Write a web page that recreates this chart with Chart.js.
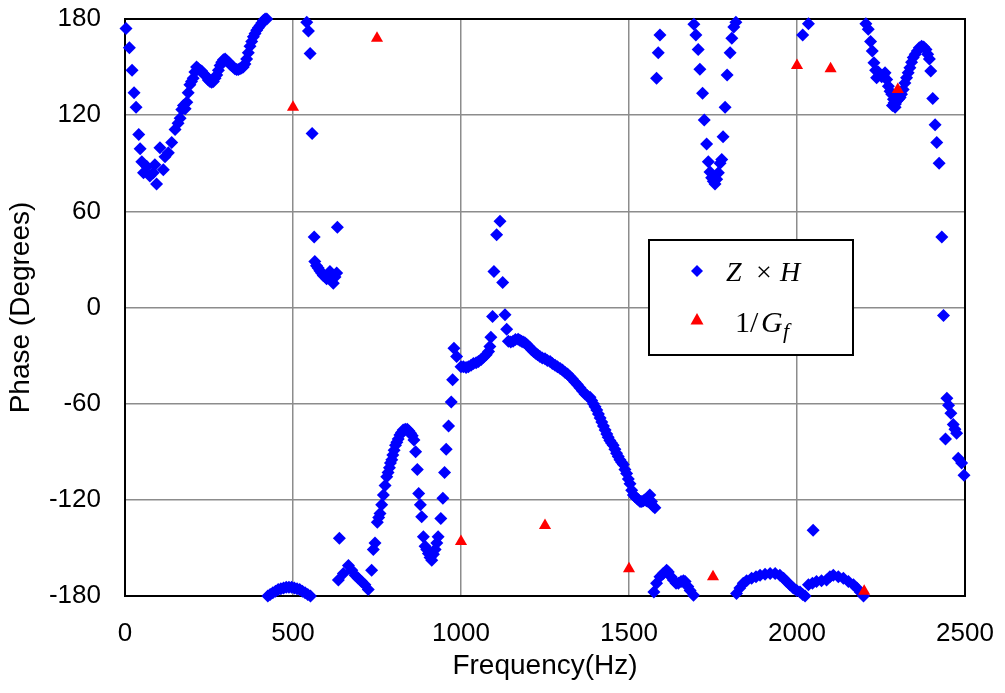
<!DOCTYPE html>
<html>
<head>
<meta charset="utf-8">
<script src="https://cdn.jsdelivr.net/npm/chart.js@4.4.1/dist/chart.umd.min.js"></script>
<style>
    body{margin:0;background:#fff;}
    #g_fase{display:block;}
</style>
</head>
<body>
<canvas id="g_fase" width="1005" height="693"></canvas>
<script>
let ticks_x = [0, 500, 1000, 1500, 2000, 2500];
let ticks_y = [-180, -120, -60, 0, 60, 120, 180];

// Z x H, frecuencia (Hz) y fase (grados)
let frec_zh = [
    3, 13, 21, 27, 33, 41, 45, 50, 55, 65, 74, 84, 89, 94, 104, 114, 119, 129, 139, 149,
    158, 164, 169, 174, 179, 184, 188, 193, 198, 203, 208, 213, 218, 223, 228, 233, 238, 243, 248, 253,
    258, 263, 268, 273, 278, 283, 288, 293, 298, 303, 308, 312, 317, 322, 327, 332, 337, 342, 347, 352,
    357, 362, 367, 372, 377, 382, 387, 392, 397, 402, 407, 412, 417, 422,
    425, 432, 440, 448, 456, 464, 472, 480, 488, 496, 504, 512, 520, 528, 536, 544, 552,
    541, 546, 551, 557, 563, 565, 570, 575, 580, 585, 590, 595, 600, 605, 610, 615, 620, 625, 630, 632,
    635, 638, 650, 665, 675, 685, 694, 704, 714, 724, 734, 739, 744, 751, 755, 759, 764, 769, 774, 779,
    783, 787, 790, 794, 797, 801, 805, 809, 813, 818, 823, 828, 834, 840, 845, 850, 855, 860, 865, 870,
    874, 879, 883, 888, 893, 898, 903, 908, 913, 918, 923, 928, 932, 940, 946, 951, 956, 963, 971, 975,
    979, 987, 1000, 1007, 1015, 1022, 1030, 1037, 1045, 1052, 1060, 1067, 1075, 1082, 1086, 1089, 1094, 1098, 1106, 1116,
    1124, 1131, 1136, 1141, 1148, 1155, 1162, 1170, 1175, 1180, 1185, 1190, 1195, 1200, 1205, 1210, 1216, 1222, 1228, 1235,
    1242, 1250, 1257, 1265, 1272, 1280, 1287, 1295, 1302, 1310, 1317, 1324, 1331, 1339, 1346, 1354, 1361, 1369, 1376, 1384,
    1389, 1394, 1399, 1404, 1409, 1414, 1419, 1424, 1429, 1434, 1438, 1443, 1448, 1453, 1458, 1463, 1468, 1473, 1478, 1483,
    1488, 1493, 1498, 1503, 1508, 1513, 1518, 1523, 1528, 1533, 1538, 1543, 1548, 1552, 1557, 1562, 1567, 1572, 1577,
    1574, 1582, 1592, 1602, 1612, 1617, 1625, 1632, 1640, 1647, 1655, 1662, 1667, 1675, 1682, 1692,
    1582, 1587, 1592, 1693, 1699, 1706, 1711, 1719, 1724, 1731, 1736, 1741, 1746, 1751, 1756, 1761, 1766, 1771, 1776, 1780,
    1786, 1792, 1801, 1806, 1812, 1818,
    1820, 1830, 1840, 1850, 1865, 1878, 1890, 1905, 1920, 1935, 1949, 1960, 1969, 1979, 1989, 1999, 2009, 2017, 2024, 2034,
    2046, 2048, 2058, 2073, 2088, 2098, 2108, 2123, 2138, 2153, 2168, 2178, 2188, 2198,
    2017, 2034,
    2205, 2212, 2219, 2224, 2229, 2234, 2237, 2242, 2247, 2252, 2257, 2262, 2267, 2272, 2277, 2282, 2284, 2287, 2289, 2292,
    2293, 2297, 2302, 2307, 2311, 2316, 2321, 2326, 2331, 2336, 2341, 2346, 2352, 2358, 2364, 2371, 2377, 2384, 2389, 2394,
    2398, 2404, 2411, 2416, 2423, 2431, 2436, 2442, 2446, 2451, 2458, 2465, 2470, 2475, 2480, 2490, 2497
];
let fase_zh = [
    174, 162, 148, 134, 125, 108, 99, 91, 84, 88, 82, 84, 89, 77, 99.6, 86, 94, 96.5, 103, 111,
    115, 118, 123.6, 126, 124, 128, 134, 139, 141, 143, 147, 150, 149, 148, 147.5, 146, 145, 144, 142, 141,
    140.5, 141, 143, 145, 148, 151, 153, 154.5, 155, 154, 153, 152, 151, 150, 149, 148.5, 148.5, 149, 149.5, 150,
    152, 155, 159, 163, 166, 169, 171, 173, 174.6, 176, 177.5, 179, 180, 180,
    -180, -179, -178, -177, -176, -175.5, -175, -174.5, -174.5, -174.5, -175, -175.5, -176, -177, -178, -179, -180,
    178, 172.5, 158.5, 108.5, 44, 28.7, 26, 24.6, 23, 21.5, 20, 19.4, 18, 20, 22.5, 18, 15.2, 19, 21.5, 50,
    -170, -144, -166, -161, -164, -167, -169, -171, -173, -176, -164, -151, -147, -134, -131, -128.5, -123, -117, -111, -105.6,
    -103, -100, -97, -95, -92, -89, -86, -84, -82, -79.5, -78, -76.5, -76, -76, -77, -78.5, -80, -82.7, -90, -101,
    -116, -123, -130.6, -143, -149, -151, -153.5, -156, -157.7, -154, -151, -147, -143, -131.6, -119, -103, -88.5, -74, -59, -45,
    -25.4, -30.6, -37, -37, -37.5, -37, -36, -35, -34.5, -33.7, -32.5, -31, -29.5, -27.5, -24.4, -18.5, -5.6, 22.5, 45.4, 53.8,
    15.6, -4.6, -13.5, -21, -21.5, -21, -20, -19.8, -20.5, -21, -21.5, -22, -23, -24, -25, -26.4, -27.5, -28.5, -29.5, -30.6,
    -31.5, -32, -33, -33.7, -35, -36, -37, -38, -39, -40.5, -41.5, -43, -44.5, -46.5, -48, -50, -52, -54, -55, -56,
    -58, -60, -62, -64, -66.5, -69, -71.5, -74, -76.5, -79, -81, -83, -84.5, -86, -88.5, -91, -93, -95, -96.5, -98,
    -101, -103.5, -107, -110, -114, -117, -118, -119, -120, -121, -121, -120.5, -120, -120.5, -121, -117, -121, -124, -125,
    -177.5, -172, -168, -166, -164, -165, -168, -170, -172, -172, -171, -170.5, -171, -174, -176.5, -179.6,
    143, 159, 170, 176.7, 170, 161, 148.6, 133.6, 117, 102, 91, 84.6, 81, 78.8, 77, 80, 84, 90, 92.3, 106.5,
    125, 145, 159, 168, 175, 178,
    -178.5, -175, -172, -170.5, -169, -168, -167, -166.5, -166, -166, -167, -169, -171, -173, -175, -176.5, -177.5, -179, -180, -173,
    -172, -139, -171, -170.5, -170, -168, -167, -168, -169, -171, -173, -175, -177.5, -180,
    170, 177,
    177, 173.6, 166, 160, 152.7, 148, 143.4, 147, 145.4, 144, 145, 146.5, 142.3, 138, 135, 133, 126, 130, 127.7, 125,
    127, 128.8, 130, 131, 133, 136, 140, 143.4, 146.5, 149.6, 153, 156, 158, 160, 162, 163, 162.5, 161, 158, 155,
    147.5, 130.4, 114, 103, 90, 44, -5, -82, -56.6, -61, -66, -73, -76, -78.5, -94, -97, -104.6
];

// 1/Gf
let frec_gf = [500, 750, 1000, 1250, 1500, 1750, 2000, 2100, 2200, 2300];
let fase_gf = [125, 168, -146, -136, -163, -168, 151, 149, -177, 136];

let azul = "#0000ff";
let rojo = "#ff0000";

function puntos(xs, ys){
    let r = [];
    for(let i = 0; i < xs.length; i++){
        r.push({x: xs[i], y: ys[i]});
    }
    return r;
}

// marco superior/derecho del area
let marco = {
    id: "marco",
    beforeDatasetsDraw(chart){
        let a = chart.chartArea;
        let ctx = chart.ctx;
        ctx.save();
        ctx.strokeStyle = "#000";
        ctx.lineWidth = 2;
        ctx.strokeRect(a.left, a.top, a.right - a.left, a.bottom - a.top);
        ctx.restore();
    }
};

// leyenda dentro del grafico
let leyenda = {
    id: "leyenda",
    afterDraw(chart){
        let ctx = chart.ctx;
        ctx.save();
        ctx.fillStyle = "#fff";
        ctx.fillRect(649, 240, 204, 115);
        ctx.strokeStyle = "#000";
        ctx.lineWidth = 2;
        ctx.strokeRect(649, 240, 204, 115);

        ctx.fillStyle = azul;
        ctx.beginPath();
        ctx.moveTo(697, 265); ctx.lineTo(703, 271); ctx.lineTo(697, 277); ctx.lineTo(691, 271);
        ctx.closePath();
        ctx.fill();

        ctx.fillStyle = rojo;
        ctx.beginPath();
        ctx.moveTo(697, 313); ctx.lineTo(703.5, 324.5); ctx.lineTo(690.5, 324.5);
        ctx.closePath();
        ctx.fill();

        ctx.fillStyle = "#000";
        ctx.textBaseline = "alphabetic";
        ctx.font = "italic 28px 'Liberation Serif'";
        ctx.fillText("Z", 726, 281);
        ctx.font = "28px 'Liberation Serif'";
        ctx.fillText("\u00d7", 756, 281);
        ctx.font = "italic 28px 'Liberation Serif'";
        ctx.fillText("H", 780, 281);

        ctx.font = "30px 'Liberation Serif'";
        ctx.fillText("1/", 735, 332);
        ctx.font = "italic 30px 'Liberation Serif'";
        ctx.fillText("G", 761, 332);
        ctx.font = "italic 22px 'Liberation Serif'";
        ctx.fillText("f", 783, 338);
        ctx.restore();
    }
};

let ctx = document.getElementById("g_fase").getContext("2d");
let g_fase = new Chart(ctx, {
    type: "scatter",
    data: {
        datasets: [
            {
                label: "1/Gf",
                data: puntos(frec_gf, fase_gf),
                pointStyle: "triangle",
                pointRadius: 7,
                backgroundColor: rojo,
                borderColor: rojo,
                borderWidth: 0,
                clip: false,
                order: 0
            },
            {
                label: "Z x H",
                data: puntos(frec_zh, fase_zh),
                pointStyle: "rectRot",
                pointRadius: 6.5,
                backgroundColor: azul,
                borderColor: azul,
                borderWidth: 0,
                clip: false,
                order: 1
            }
        ]
    },
    options: {
        responsive: false,
        animation: false,
        devicePixelRatio: 1,
        layout: {
            padding: {top: 19, right: 40, left: 0, bottom: 0}
        },
        plugins: {
            legend: {display: false},
            tooltip: {enabled: false}
        },
        scales: {
            x: {
                type: "linear",
                min: 0,
                max: 2500,
                afterFit: function(s){
                    s.height = 97;
                    s.paddingLeft = 0;
                    s.paddingRight = 0;
                },
                afterBuildTicks: function(s){ s.ticks = ticks_x.map(v => ({value: v})); },
                grid: {color: "#8c8c8c", lineWidth: 1.5, drawTicks: false},
                border: {color: "#000", width: 2},
                ticks: {
                    color: "#000",
                    padding: 22,
                    font: {family: "'Liberation Sans'", size: 26},
                    callback: function(v){ return String(v); }
                },
                title: {
                    display: true,
                    text: "Frequency(Hz)",
                    color: "#000",
                    font: {family: "'Liberation Sans'", size: 28},
                    padding: {top: 0, bottom: 10}
                }
            },
            y: {
                min: -180,
                max: 180,
                afterFit: function(s){
                    s.width = 125;
                    s.paddingTop = 0;
                    s.paddingBottom = 0;
                },
                afterBuildTicks: function(s){ s.ticks = ticks_y.map(v => ({value: v})); },
                grid: {color: "#8c8c8c", lineWidth: 1.5, drawTicks: false},
                border: {color: "#000", width: 2},
                ticks: {
                    color: "#000",
                    padding: 24,
                    font: {family: "'Liberation Sans'", size: 26},
                    callback: function(v){ return String(v); }
                },
                title: {
                    display: true,
                    text: "Phase (Degrees)",
                    color: "#000",
                    font: {family: "'Liberation Sans'", size: 28},
                    padding: {top: 4, bottom: 0}
                }
            }
        }
    },
    plugins: [marco, leyenda]
});
</script>
</body>
</html>
